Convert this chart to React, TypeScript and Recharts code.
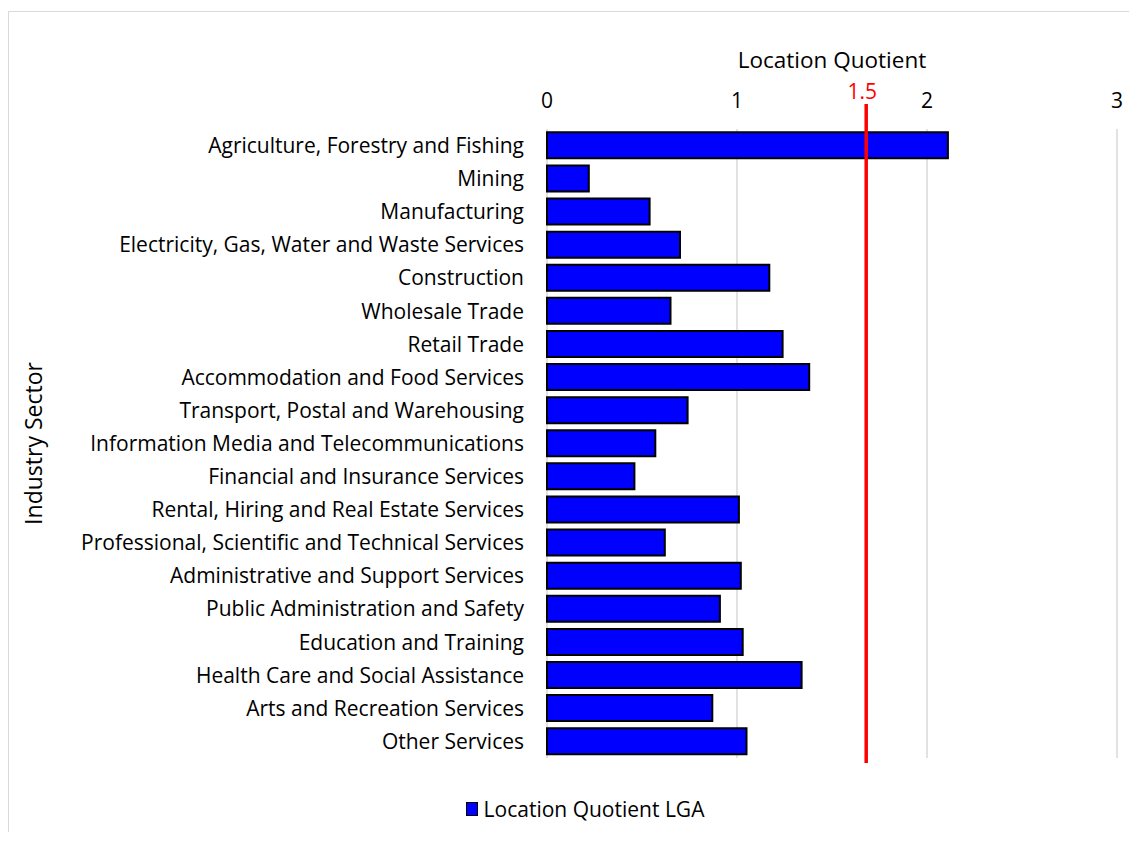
import React from 'react';
import { BarChart, Bar, XAxis, YAxis, CartesianGrid, ReferenceLine, Legend } from 'recharts';

const sectors = [
    'Agriculture, Forestry and Fishing',
    'Mining',
    'Manufacturing',
    'Electricity, Gas, Water and Waste Services',
    'Construction',
    'Wholesale Trade',
    'Retail Trade',
    'Accommodation and Food Services',
    'Transport, Postal and Warehousing',
    'Information Media and Telecommunications',
    'Financial and Insurance Services',
    'Rental, Hiring and Real Estate Services',
    'Professional, Scientific and Technical Services',
    'Administrative and Support Services',
    'Public Administration and Safety',
    'Education and Training',
    'Health Care and Social Assistance',
    'Arts and Recreation Services',
    'Other Services',
];

const lqValues = [2.11, 0.22, 0.54, 0.70, 1.17, 0.65, 1.24, 1.38, 0.74, 0.57, 0.46, 1.01, 0.62, 1.02, 0.91, 1.03, 1.34, 0.87, 1.05];

const xTicks = [0, 1, 2, 3];
const thresholdPosition = 1.68;
const thresholdLabel = '1.5';

const chartData = sectors.map((name, i) => ({ name, lq: lqValues[i] }));

const FONT = '"Open Sans", sans-serif';

const ThresholdShape = (props: any) => {
    const { x1, y1, x2, y2 } = props;
    return (
        <g>
            <line x1={x1} y1={y1 - 25} x2={x2} y2={y2 + 5} stroke="#FF0000" strokeWidth={3.5} />
            <text x={x1 - 4} y={y1 - 30} textAnchor="middle" fill="#FF0000" fontSize={21} fontFamily={FONT}>
                {thresholdLabel}
            </text>
        </g>
    );
};

const LegendContent = () => (
    <div style={{ marginTop: 37, display: 'flex', justifyContent: 'center', alignItems: 'center', paddingLeft: 44, fontFamily: FONT, fontSize: 21, color: '#000' }}>
        <span style={{ display: 'inline-block', width: 10, height: 12, background: '#0000FF', border: '1.5px solid #000', marginRight: 6 }} />
        <span>Location Quotient LGA</span>
    </div>
);

const App: React.FC = () => (
    <div style={{ marginTop: 3, borderTop: '1px solid #d9d9d9', borderLeft: '1px solid #d9d9d9', width: 1120 }}>
        <BarChart
            width={1120}
            height={820}
            data={chartData}
            layout="vertical"
            barCategoryGap="10%"
            margin={{ top: 0, right: 12, bottom: 10, left: 0 }}
        >
            <CartesianGrid horizontal={false} stroke="#d9d9d9" strokeWidth={1.5} />
            <XAxis
                type="number"
                orientation="top"
                domain={[0, 3]}
                ticks={xTicks}
                height={117}
                tickSize={0}
                tickMargin={21}
                axisLine={false}
                tickLine={false}
                tick={{ fill: '#000', fontSize: 21, fontFamily: FONT }}
                label={{
                    content: (p: any) => {
                        const vb = p.viewBox;
                        return (
                            <text x={vb.x + vb.width / 2} y={vb.y + 56} textAnchor="middle" fill="#000" fontSize={22.5} fontFamily={FONT}>
                                Location Quotient
                            </text>
                        );
                    },
                }}
            />
            <YAxis
                type="category"
                dataKey="name"
                width={538}
                interval={0}
                tickSize={0}
                tickMargin={23}
                axisLine={false}
                tickLine={false}
                tick={{ fill: '#000', fontSize: 21, fontFamily: FONT }}
                label={{
                    content: (p: any) => {
                        const vb = p.viewBox;
                        const cy = vb.y + vb.height / 2;
                        return (
                            <text x={33} y={cy} transform={`rotate(-90, 33, ${cy})`} textAnchor="middle" fill="#000" fontSize={23} fontFamily={FONT}>
                                Industry Sector
                            </text>
                        );
                    },
                }}
            />
            <Legend verticalAlign="bottom" height={64} content={LegendContent} />
            <Bar dataKey="lq" name="Location Quotient LGA" fill="#0000FF" stroke="#000" strokeWidth={2} isAnimationActive={false} />
            <ReferenceLine x={thresholdPosition} ifOverflow="visible" shape={ThresholdShape} />
        </BarChart>
    </div>
);

export default App;
